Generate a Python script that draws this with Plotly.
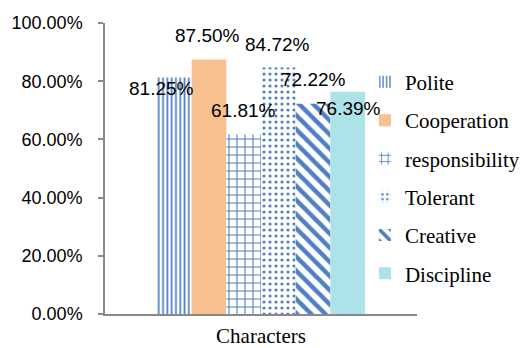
import plotly.graph_objects as go

# Share of students showing each character trait (%)
category = ["Characters"]
traits = ["Polite", "Cooperation", "responsibility", "Tolerant", "Creative", "Discipline"]
values = [81.25, 87.50, 61.81, 84.72, 72.22, 76.39]
y_ticks = [0, 20, 40, 60, 80, 100]
y_tick_text = [f"{t:.2f}%" for t in y_ticks]

BLUE = "#4F7FC4"
SERIF = "Liberation Serif, Times New Roman, serif"
SANS = "Liberation Sans, Arial, sans-serif"

styles = {
    "Polite":         dict(shape="|", size=4.3, solidity=0.4, fg=BLUE, bg="white"),
    "Cooperation":    dict(shape="", fill="#F8C08F"),
    "responsibility": dict(shape="+", size=8, solidity=0.25, fg=BLUE, bg="white"),
    "Tolerant":       dict(shape=".", size=6, solidity=0.22, fg=BLUE, bg="white"),
    "Creative":       dict(shape="\\", size=10, solidity=0.45, fg=BLUE, bg="white"),
    "Discipline":     dict(shape="", fill="#ADE2E8"),
}

# label nudges (x px, y px) relative to the top-centre of each bar
label_shift = {
    "Polite": (-13, -11),
    "Cooperation": (-1, 24),
    "responsibility": (0, 24),
    "Tolerant": (-1, 23),
    "Creative": (0, 24),
    "Discipline": (1, -17),
}

L, R, T, B = 105, 104, 23, 34
W, H = 521, 348
BARGAP = 0.333
plot_w = W - L - R
bar_px = plot_w * (1 - BARGAP) / len(traits)

fig = go.Figure()
annotations = []
for i, (name, v) in enumerate(zip(traits, values)):
    st = styles[name]
    if st["shape"]:
        marker = dict(
            color="white",
            line=dict(width=0),
            pattern=dict(shape=st["shape"], size=st["size"], solidity=st["solidity"],
                         fgcolor=st["fg"], bgcolor=st["bg"], fillmode="replace"),
        )
    else:
        marker = dict(color=st["fill"], line=dict(width=0))
    fig.add_trace(go.Bar(
        name=name, x=category, y=[v], marker=marker,
        legendgroup=name, hoverinfo="skip",
    ))
    dx, dy = label_shift[name]
    annotations.append(dict(
        x=category[0], y=v, xref="x", yref="y",
        text=f"{v:.2f}%", showarrow=False,
        xshift=(i - (len(traits) - 1) / 2) * bar_px + dx, yshift=dy,
        font=dict(family=SANS, size=19, color="#000"),
    ))

fig.update_layout(
    width=W, height=H,
    margin=dict(l=L, r=R, t=T, b=B, autoexpand=False),
    paper_bgcolor="white", plot_bgcolor="white",
    barmode="group", bargap=BARGAP, bargroupgap=0,
    annotations=annotations,
    showlegend=True,
    legend=dict(
        x=0.833, y=0.867, xanchor="left", yanchor="top",
        traceorder="grouped", tracegroupgap=8,
        font=dict(family=SERIF, size=21, color="#000"),
        bgcolor="rgba(0,0,0,0)", itemwidth=30,
    ),
)

fig.update_xaxes(
    automargin=False,
    showline=True, linecolor="#898989", linewidth=1.5,
    showgrid=False, ticks="", ticklabelstandoff=2,
    tickfont=dict(family=SERIF, size=21, color="#000"),
)
fig.update_yaxes(
    automargin=False,
    range=[0, 100], tickmode="array", tickvals=y_ticks, ticktext=y_tick_text,
    showline=True, linecolor="#898989", linewidth=1.5,
    ticks="outside", ticklen=5, tickcolor="#898989", tickwidth=1.5,
    showgrid=False, zeroline=False, ticklabelstandoff=12,
    tickfont=dict(family=SANS, size=18, color="#000"),
)

fig.write_html("out.html")
